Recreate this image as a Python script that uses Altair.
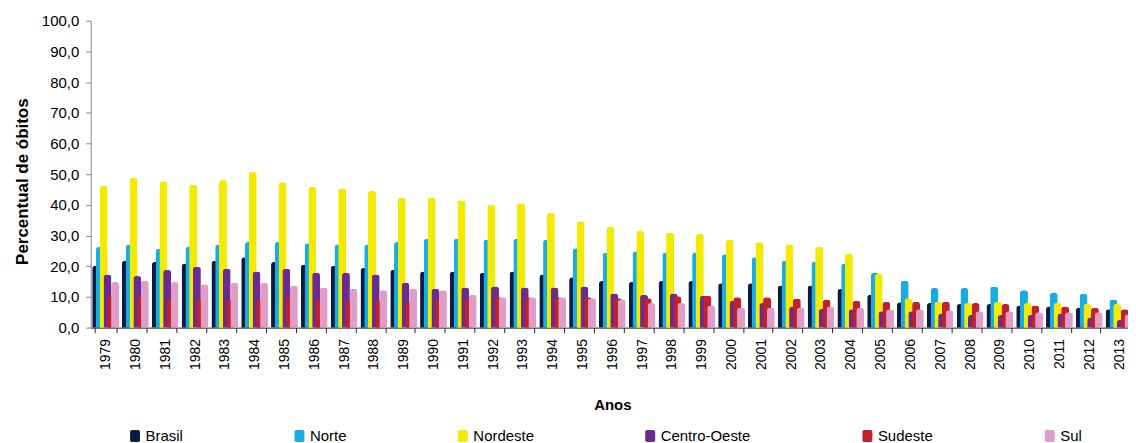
import altair as alt
import pandas as pd

years = [str(y) for y in range(1979, 2014)]
series = ["Brasil", "Norte", "Nordeste", "Centro-Oeste", "Sudeste", "Sul"]
colors = ["#0b1c44", "#17ade3", "#f4ea00", "#6b2c91", "#c1212a", "#de9ec8"]

brasil = [20.2, 21.9, 21.4, 20.9, 21.8, 22.9, 21.4, 20.6, 20.2, 19.4, 18.8, 18.3, 18.3, 17.9, 18.3,
          17.3, 16.4, 15.2, 14.9, 15.2, 15.2, 14.5, 14.5, 13.7, 13.7, 12.6, 10.7, 8.3, 8.0, 7.7,
          7.7, 7.2, 6.9, 6.5, 6.0]
norte = [26.3, 27.1, 25.6, 26.3, 27.1, 27.9, 27.9, 27.5, 27.1, 27.1, 27.9, 29.0, 29.0, 28.6, 29.0,
         28.6, 25.9, 24.4, 24.8, 24.4, 24.4, 23.9, 22.9, 21.8, 21.4, 20.9, 17.9, 15.3, 12.9, 12.9,
         13.4, 12.2, 11.4, 11.0, 9.2]
nordeste = [46.2, 48.9, 47.7, 46.6, 48.1, 50.7, 47.4, 45.8, 45.4, 44.6, 42.3, 42.3, 41.5, 40.0, 40.5,
            37.4, 34.7, 32.8, 31.6, 30.9, 30.5, 28.6, 27.8, 27.1, 26.3, 24.1, 17.5, 9.6, 8.4, 8.0,
            8.4, 8.0, 8.0, 7.7, 7.7]
centro_oeste = [17.3, 16.8, 18.8, 19.8, 19.2, 18.3, 19.2, 17.9, 17.9, 17.3, 14.6, 12.7, 13.1, 13.4, 13.1,
                13.1, 13.4, 11.1, 10.7, 11.1, 10.4, 8.7, 8.0, 6.9, 6.1, 6.0, 5.3, 5.3, 4.5, 4.1,
                4.1, 4.1, 4.5, 3.3, 2.6]
sudeste = [10.4, 10.0, 9.2, 9.2, 9.2, 9.2, 10.0, 9.2, 8.7, 8.7, 8.4, 9.2, 9.5, 9.9, 9.9,
           9.9, 9.9, 9.6, 9.6, 10.2, 10.4, 9.9, 9.9, 9.5, 9.2, 8.8, 8.4, 8.4, 8.4, 8.0,
           7.7, 7.2, 6.9, 6.5, 6.0]
sul = [14.9, 15.4, 14.9, 14.1, 14.6, 14.6, 13.7, 13.1, 12.7, 12.2, 12.7, 12.2, 10.7, 9.9, 9.9,
       9.9, 9.6, 9.2, 8.0, 8.0, 7.2, 6.5, 6.5, 6.5, 6.9, 6.5, 6.0, 6.0, 5.7, 5.3,
       5.3, 5.0, 5.0, 5.0, 4.3]

all_values = [brasil, norte, nordeste, centro_oeste, sudeste, sul]
rows = []
for i, ano in enumerate(years):
    for s, vals in zip(series, all_values):
        rows.append({"Ano": ano, "Regiao": s, "Valor": vals[i]})
df = pd.DataFrame(rows)

FONT = "Liberation Sans"
rounded_sq = ("M-0.83,-0.7 Q-0.83,-1 -0.5,-1 L0.5,-1 Q0.83,-1 0.83,-0.7 L0.83,0.7 "
              "Q0.83,1 0.5,1 L-0.5,1 Q-0.83,1 -0.83,0.7 Z")

chart = alt.Chart(df).mark_bar(
    width=8,
    cornerRadiusTopLeft=3,
    cornerRadiusTopRight=3,
).encode(
    x=alt.X(
        "Ano:N", sort=years, title="Anos",
        scale=alt.Scale(paddingInner=0.24, paddingOuter=0.12),
        axis=alt.Axis(
            labelAngle=-90, tickBand="extent", labelFontSize=14, labelFont=FONT,
            labelColor="#000", tickColor="#222", tickSize=5, domainColor="#222",
            labelPadding=6, titleFont=FONT, titleFontSize=15, titleFontWeight="bold",
            titleColor="#000", titlePadding=28,
        ),
    ),
    xOffset=alt.XOffset("Regiao:N", sort=series,
                        scale=alt.Scale(paddingInner=0, paddingOuter=0)),
    y=alt.Y(
        "Valor:Q", title="Percentual de óbitos",
        scale=alt.Scale(domain=[0, 100]),
        axis=alt.Axis(
            values=list(range(0, 101, 10)),
            labelExpr="replace(format(datum.value, '.1f'), '.', ',')",
            labelFont=FONT, labelFontSize=15, labelColor="#000",
            tickColor="#868686", tickSize=5, domainColor="#868686", labelPadding=7,
            grid=False, titleFont=FONT, titleFontSize=17, titleFontWeight="bold",
            titleColor="#000", titlePadding=10, titleY=161,
        ),
    ),
    color=alt.Color(
        "Regiao:N", sort=series,
        scale=alt.Scale(domain=series, range=colors),
        legend=alt.Legend(
            title=None, orient="none", direction="horizontal",
            legendX=37, legendY=409,
            symbolType=rounded_sq, symbolSize=144, symbolStrokeWidth=0,
            labelFont=FONT, labelFontSize=15, labelColor="#000",
            labelOffset=3, columnPadding=109,
        ),
    ),
).properties(
    width=1047, height=308,
    padding={"left": 5, "top": 5, "right": -6, "bottom": 0},
).configure_view(stroke=None).configure_axis(grid=False)

chart.save("out.html", embed_options={"renderer": "svg", "actions": False})
